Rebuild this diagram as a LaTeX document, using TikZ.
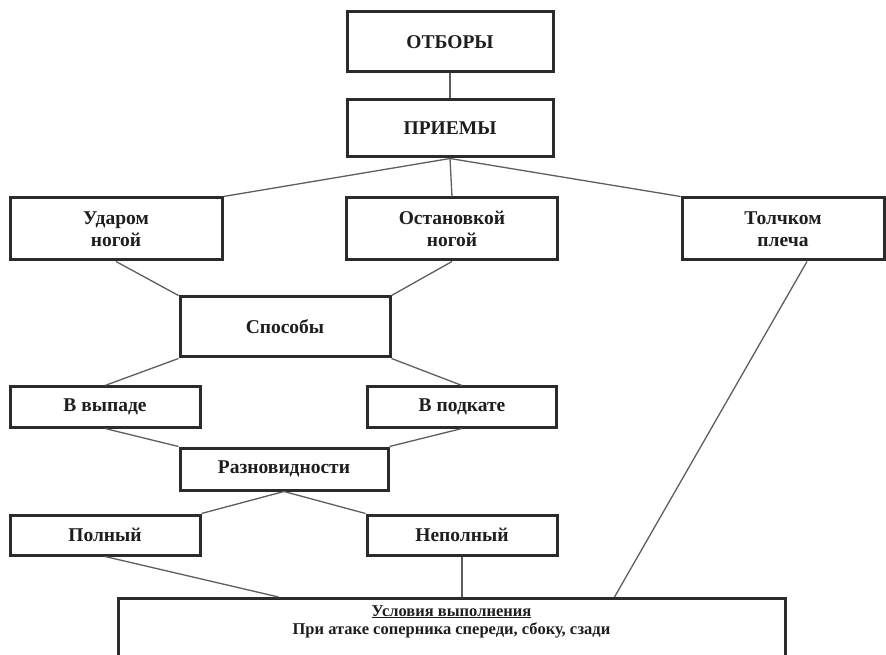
\documentclass[tikz,border=0pt]{standalone}
\usepackage{fontspec}
\setmainfont{Liberation Serif}
\usepackage{xcolor}
\usepackage{tikz}
\definecolor{boxline}{HTML}{2B2B2B}
\definecolor{wire}{HTML}{5E5E5E}
\definecolor{ink}{HTML}{1E1E1E}
\tikzset{
  box/.style={draw=boxline,line width=3pt,fill=white,text=ink,align=center,
    font=\fontsize{19.5}{22}\selectfont\bfseries,inner sep=2pt},
  wire/.style={draw=wire,line width=1.3pt}
}
\begin{document}
\begin{tikzpicture}[scale=1.000000,x=1pt,y=1pt]
\clip (0.000000,0.000000) rectangle (886.000000,654.000000);
\fill[color=white] (0.000000,0.000000) rectangle (886.000000,654.000000);
% Drawing boxes
% Level 1: ОТБОРЫ, ПРИЕМЫ
\node[box,minimum width=206pt,minimum height=60pt] (otb) at (450.000000,612.000000) {ОТБОРЫ};
\node[box,minimum width=206pt,minimum height=57pt] (pri) at (450.000000,525.500000) {ПРИЕМЫ};
% Level 2: three kinds of tackle
\node[box,minimum width=212pt,minimum height=62pt] (udar) at (116.000000,425.000000) {Ударом\\ногой};
\node[box,minimum width=211pt,minimum height=62pt] (ostan) at (452.000000,425.000000) {Остановкой\\ногой};
\node[box,minimum width=202pt,minimum height=62pt] (tolch) at (783.000000,425.000000) {Толчком\\плеча};
% Level 3: Способы
\node[box,minimum width=210pt,minimum height=60pt] (spos) at (285.000000,327.000000) {Способы};
\node[box,minimum width=190pt,minimum height=40pt] (vyp) at (105.000000,247.000000) {В выпаде};
\node[box,minimum width=189pt,minimum height=40pt] (podk) at (462.000000,247.000000) {В подкате};
% Level 4: Разновидности
\node[box,minimum width=208pt,minimum height=42pt] (razn) at (284.000000,185.000000) {Разновидности};
\node[box,minimum width=190pt,minimum height=40pt] (poln) at (105.000000,119.000000) {Полный};
\node[box,minimum width=190pt,minimum height=40pt] (nepoln) at (462.000000,119.000000) {Неполный};
% Level 5: conditions (cut at the bottom edge)
\node[box,minimum width=667pt,minimum height=110pt,anchor=north] (cond) at (451.500000,57.000000) {};
\node[text=ink,align=center,anchor=north,inner sep=0pt,
  font=\fontsize{16.5}{18}\selectfont\bfseries] (condtext) at ([yshift=-8pt]cond.north)
  {\underline{Условия выполнения}\\При атаке соперника спереди, сбоку, сзади};
% Done with boxes; drawing lines
\draw[wire] (otb.south) -- (pri.north);
\draw[wire] (pri.south) -- (udar.north east);
\draw[wire] (pri.south) -- (ostan.north);
\draw[wire] (pri.south) -- (tolch.north west);
\draw[wire] (udar.south) -- (spos.north west);
\draw[wire] (ostan.south) -- (spos.north east);
\draw[wire] (spos.south west) -- (vyp.north);
\draw[wire] (spos.south east) -- (podk.north);
\draw[wire] (vyp.south) -- (razn.north west);
\draw[wire] (podk.south) -- (razn.north east);
\draw[wire] (razn.south) -- (poln.north east);
\draw[wire] (razn.south) -- (nepoln.north west);
\draw[wire] (poln.south) -- ([xshift=162pt]cond.north west);
\draw[wire] (nepoln.south) -- (nepoln.south |- cond.north);
\draw[wire] ([xshift=24pt]tolch.south) -- ([xshift=498pt]cond.north west);
% Done with lines
\end{tikzpicture}
\end{document}
